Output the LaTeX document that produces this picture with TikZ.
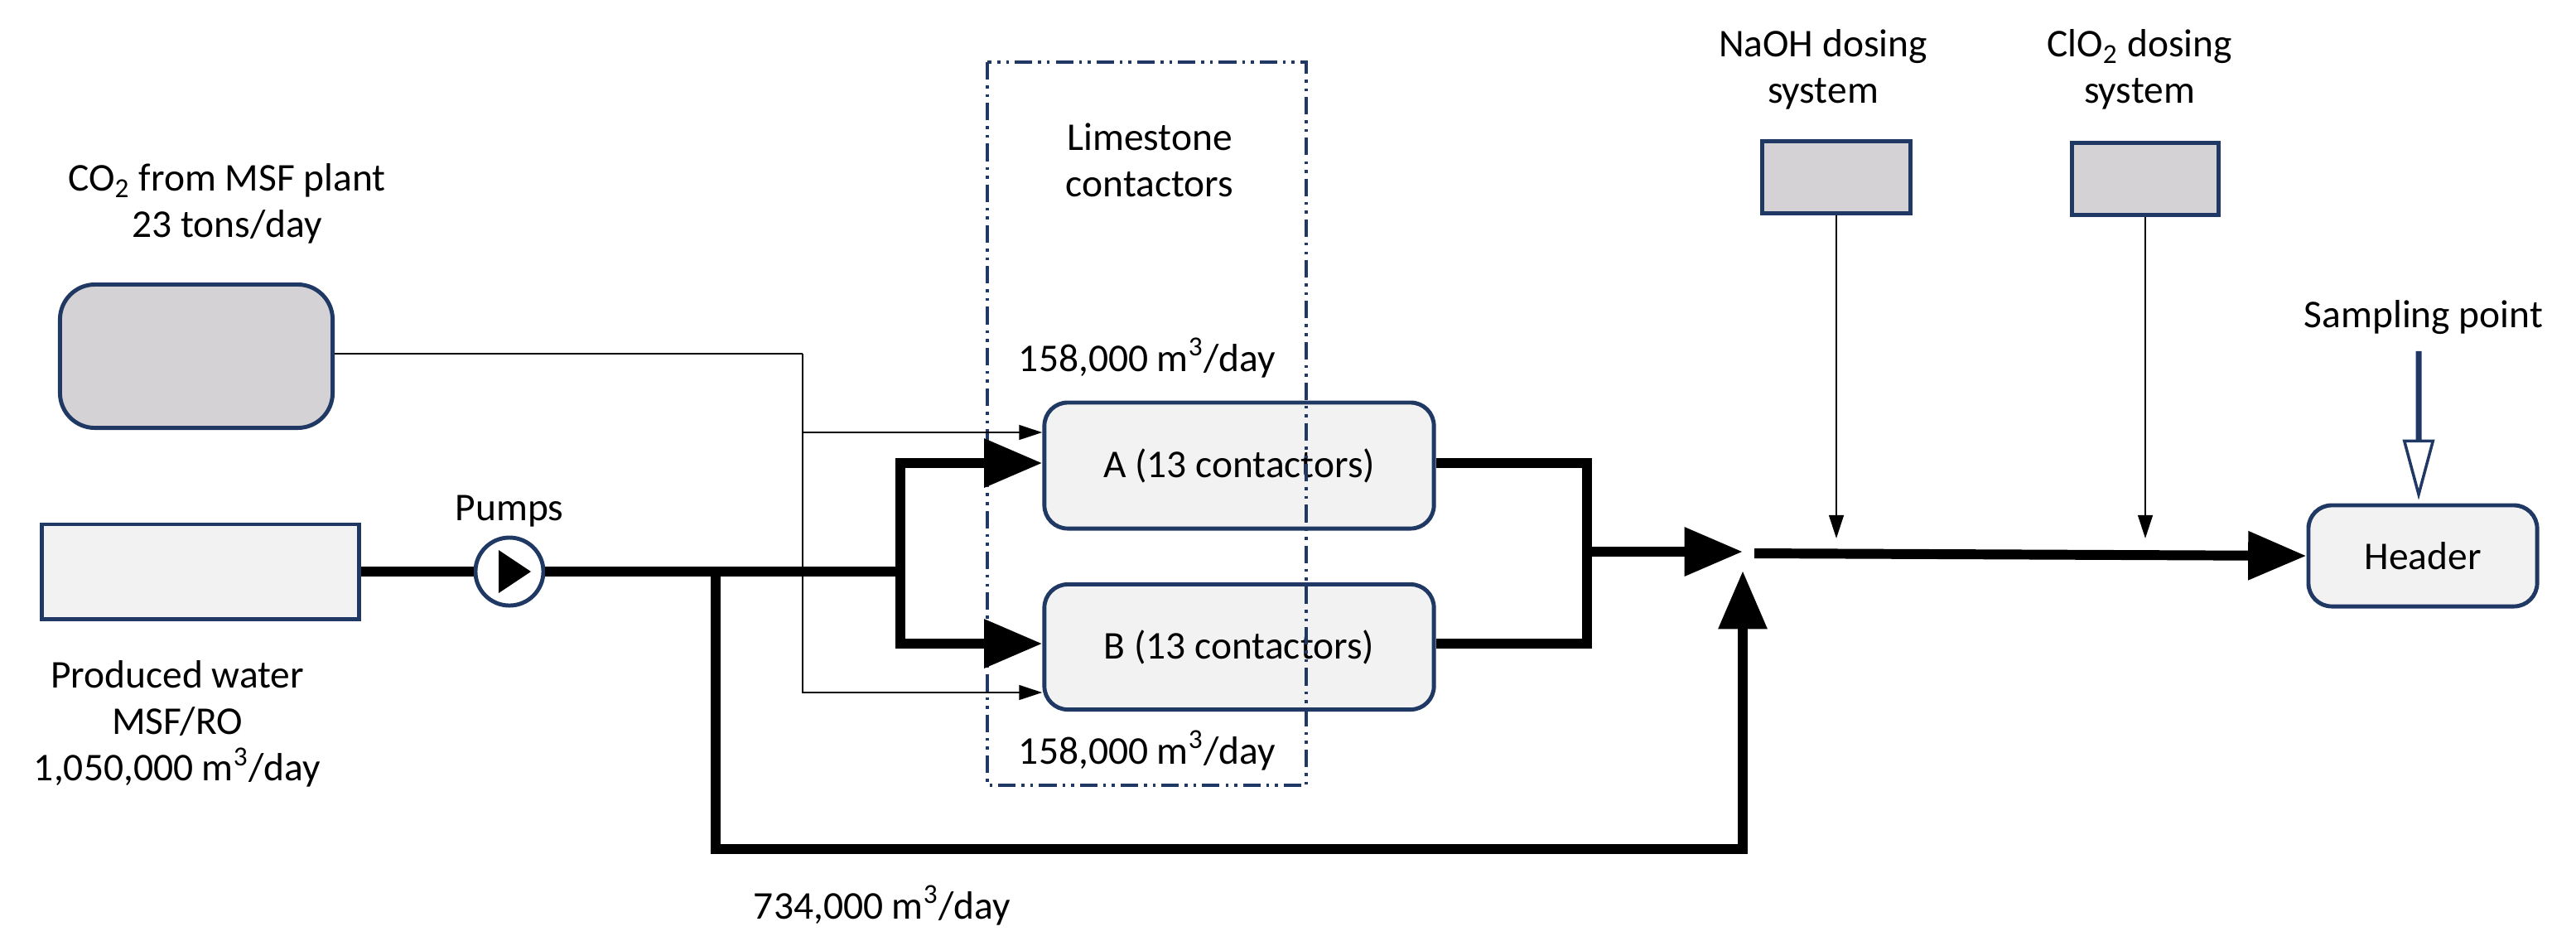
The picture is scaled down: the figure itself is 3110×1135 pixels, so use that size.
\documentclass[tikz,border=0pt]{standalone}
\usepackage{fontspec}
\setmainfont{Carlito}
\usetikzlibrary{arrows.meta,shapes.arrows}
\definecolor{navy}{RGB}{31,56,100}
\definecolor{boxgray}{RGB}{212,210,212}
\definecolor{boxlight}{RGB}{242,242,242}
\tikzset{
 unit/.style={draw=navy,line width=1.4pt,inner sep=0pt},
 pipe/.style={line width=3.4pt},
 feed/.style={line width=0.8pt},
 lbl/.style={font=\fontsize{13.5}{16}\selectfont,align=center},
}
\begin{document}
\begin{tikzpicture}[x=0.01cm,y=-0.01cm]
\useasboundingbox (0,0) rectangle (3110,1135);

% units
\node [unit,fill=boxgray,rounded corners=12pt,minimum width=3.29cm,minimum height=1.73cm] (co2) at (237,430) {};
\node [unit,fill=boxlight,minimum width=3.83cm,minimum height=1.14cm] (pw) at (242,690) {};
\node [unit,fill=boxlight,rounded corners=8pt,minimum width=4.7cm,minimum height=1.52cm,lbl] (A) at (1496,562) {A (13 contactors)};
\node [unit,fill=boxlight,rounded corners=8pt,minimum width=4.7cm,minimum height=1.51cm,lbl] (B) at (1496,781) {B (13 contactors)};
\node [unit,fill=boxgray,minimum width=1.79cm,minimum height=0.87cm] (naoh) at (2217,214) {};
\node [unit,fill=boxgray,minimum width=1.77cm,minimum height=0.87cm] (clo) at (2590,216) {};
\node [unit,fill=boxlight,rounded corners=8pt,minimum width=2.76cm,minimum height=1.22cm,lbl] (hdr) at (2925,671) {Header};
\node [circle,draw=navy,line width=1.4pt,fill=white,minimum size=0.82cm,inner sep=0pt] (pump) at (615,690) {};
\fill (pump.center) ++(-13,-26) -- ++(39,26) -- ++(-39,26) -- cycle;

% contactor frame
\draw [navy,line width=1pt,dash pattern=on 6pt off 2pt on 1pt off 2pt on 1pt off 2pt] (1192,75) rectangle (1577,948);

% labels
\node [lbl] (co2t) at (274,246) {CO\textsubscript{2} from MSF plant\\23 tons/day};
\node [lbl] (pwt) at (214,874) {Produced water\\MSF/RO\\1,050,000 m\textsuperscript{3}/day};
\node [lbl] (pumpt) at (615,617) {Pumps};
\node [lbl] (limet) at (1388,193) {Limestone\\contactors};
\node [lbl] (qa) at (1385,432) {158,000 m\textsuperscript{3}/day};
\node [lbl] (qb) at (1385,906) {158,000 m\textsuperscript{3}/day};
\node [lbl] (qby) at (1065,1093) {734,000 m\textsuperscript{3}/day};
\node [lbl] (naoht) at (2201,84) {NaOH dosing\\system};
\node [lbl] (clot) at (2583,84) {ClO\textsubscript{2} dosing\\system};
\node [lbl] (sampt) at (2926,383) {Sampling point};

% junctions
\coordinate (split) at (1087,690);
\coordinate (tee) at (864,690);
\coordinate (mixA) at (2104,666);
\coordinate (mixB) at (2104,689);
\coordinate (out) at (2118,668);
\coordinate (gas) at (969,427);

% water pipes
\draw [pipe] (pw.east) -- (pump.west);
\draw [pipe] (pump.east) -- (split);
\draw [pipe,-{Triangle[length=20pt,width=16pt]}] (split) |- (A.west |- 0,559);
\draw [pipe,-{Triangle[length=20pt,width=16pt]}] (split) |- (B.west |- 0,777);
\draw [pipe] (A.east |- 0,559) -| (1916,666) |- (B.east |- 0,777);
\draw [pipe,-{Triangle[length=20pt,width=16pt]}] (1916,666) -- (mixA);
\draw [pipe,-{Triangle[length=20pt,width=16pt]}] (tee) |- (2104,1025) -- (mixB);
\draw [pipe,-{Triangle[length=20pt,width=16pt]}] (out) -- (hdr.west);

% CO2 feed
\draw [feed] (co2.east |- gas) -- (gas);
\draw [feed,-{Triangle[length=8pt,width=5pt]}] (gas) |- (A.west |- 0,522);
\draw [feed,-{Triangle[length=8pt,width=5pt]}] (gas) |- (B.west |- 0,836);

% dosing
\draw [feed,-{Triangle[length=8pt,width=5pt]}] (naoh.south) -- (2217,650);
\draw [feed,-{Triangle[length=8pt,width=5pt]}] (clo.south) -- (2590,650);

% sampling arrow
\node [single arrow,draw=navy,line width=1pt,fill=white,shape border rotate=270,
 minimum height=1.71cm,minimum width=0.27cm,single arrow head extend=0.155cm,single arrow tip angle=30,inner sep=0pt] (samp) at (2920,508) {};
\end{tikzpicture}
\end{document}
